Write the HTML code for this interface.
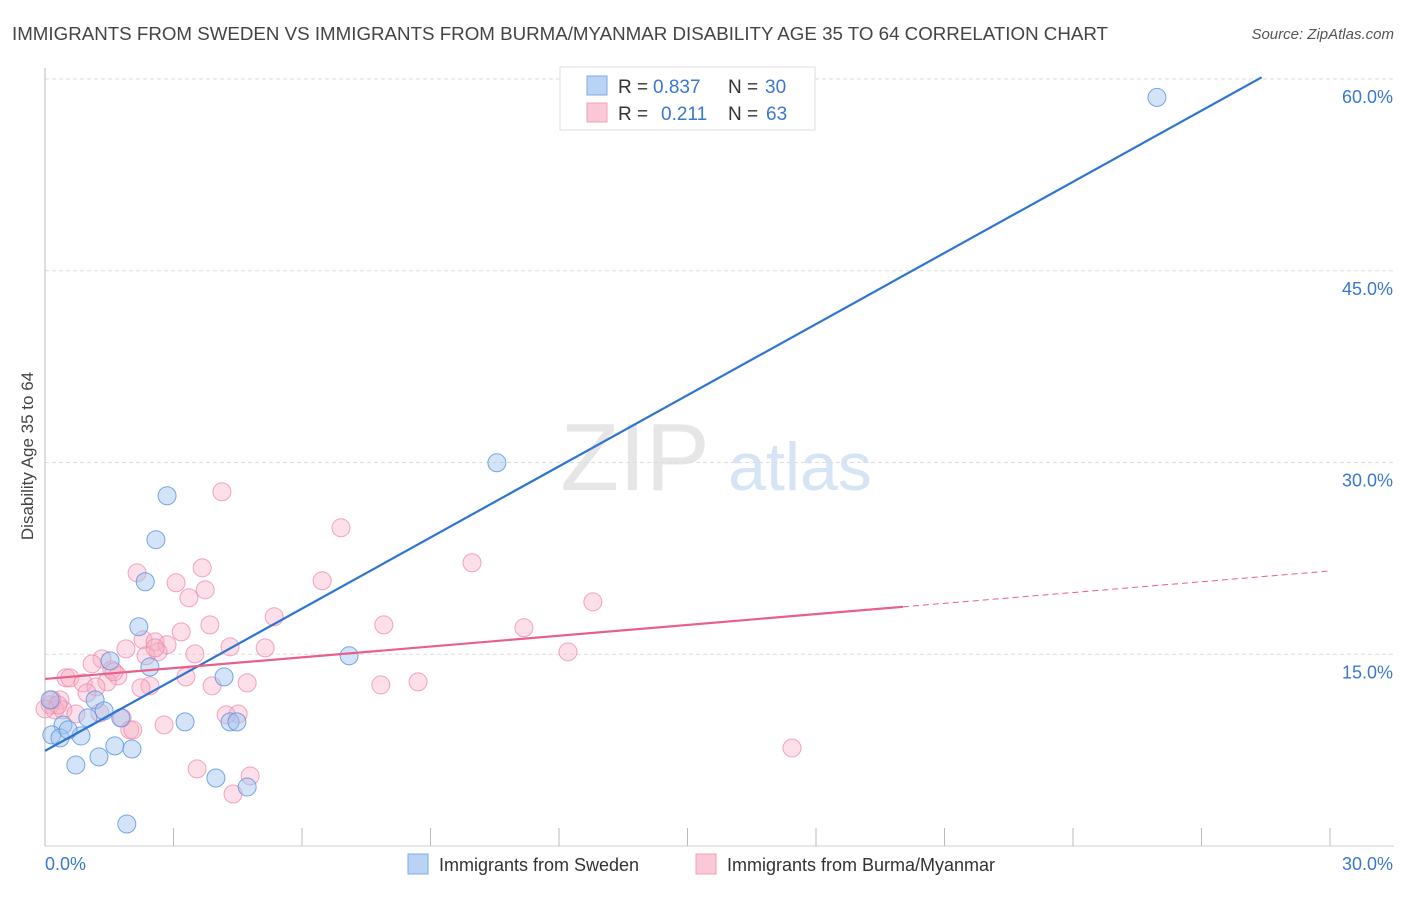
<!DOCTYPE html>
<html><head><meta charset="utf-8">
<style>
body{margin:0;background:#fff;font-family:"Liberation Sans",sans-serif;}
svg text{font-family:"Liberation Sans",sans-serif;}
</style></head>
<body>
<svg id="chart" width="1406" height="892" xmlns="http://www.w3.org/2000/svg">
<text x="12" y="40" font-size="18.5" fill="#444" textLength="1096" lengthAdjust="spacingAndGlyphs">IMMIGRANTS FROM SWEDEN VS IMMIGRANTS FROM BURMA/MYANMAR DISABILITY AGE 35 TO 64 CORRELATION CHART</text>
<text x="1394" y="39" font-size="15" fill="#555" text-anchor="end" font-style="italic">Source: ZipAtlas.com</text>
<text transform="translate(33,456) rotate(-90)" font-size="17" fill="#444" text-anchor="middle">Disability Age 35 to 64</text>
<g>
<text x="635" y="490" font-size="96" fill="#e6e6e6" font-family="Liberation Serif" text-anchor="middle">ZIP</text>
<text x="800" y="490" font-size="68" fill="#d6e4f5" text-anchor="middle">atlas</text>
</g>
<g id="grid"></g>
<g id="axes"></g>
<g id="marks"></g>
<g>
<rect x="560" y="67" width="255" height="63" fill="#fff" stroke="#ddd"/>
<rect x="587" y="76" width="20" height="19" fill="#b8d3f5" stroke="#7ea8e0"/>
<rect x="587" y="103" width="20" height="19" fill="#fac8d6" stroke="#f0a0b8"/>
<text x="618" y="93" font-size="19" fill="#333">R =</text>
<text x="653" y="93" font-size="19" fill="#3a78d0">0.837</text>
<text x="728" y="93" font-size="19" fill="#333">N =</text>
<text x="765" y="93" font-size="19" fill="#3a78d0">30</text>
<text x="618" y="120" font-size="19" fill="#333">R =</text>
<text x="661" y="120" font-size="19" fill="#3a78d0">0.211</text>
<text x="728" y="120" font-size="19" fill="#333">N =</text>
<text x="766" y="120" font-size="19" fill="#3a78d0">63</text>
</g>
<g>
<rect x="408" y="854" width="20" height="20" fill="#b8d3f5" stroke="#7ea8e0"/>
<text x="439" y="871" font-size="18" fill="#333">Immigrants from Sweden</text>
<rect x="696" y="854" width="20" height="20" fill="#fac8d6" stroke="#f0a0b8"/>
<text x="727" y="871" font-size="18" fill="#333">Immigrants from Burma/Myanmar</text>
</g>
</svg>
<script>
const yTicks=[15,30,45,60];
const xTickLabels=["0.0%","30.0%"];
const blueX=[25.96,10.55,2.85,2.59,2.34,2.19,7.10,1.52,2.45,4.18,1.17,1.38,0.12,1.00,0.42,3.27,1.77,4.32,4.48,0.16,0.35,0.84,1.63,2.03,1.26,0.72,3.99,4.72,1.91,0.54];
const blueY=[58.56,29.98,27.40,23.96,20.67,17.15,14.88,14.48,14.01,13.23,11.43,10.57,11.43,10.02,9.47,9.71,10.02,9.71,9.71,8.69,8.46,8.61,7.83,7.59,6.97,6.34,5.32,4.62,1.72,9.08];
const pinkX=[4.13,6.91,9.97,2.15,3.06,3.67,6.47,3.74,3.36,12.79,5.35,3.85,7.91,11.18,3.18,1.89,2.29,2.57,2.85,2.64,2.36,5.14,4.32,3.50,12.21,1.33,1.10,1.56,0.49,0.58,1.70,3.29,1.45,0.89,2.45,2.24,1.19,3.90,4.72,7.84,8.71,0.98,0.35,0.12,0.23,0.42,0.72,1.28,1.80,4.51,4.23,2.78,1.98,2.05,17.44,3.55,4.79,4.39,0.16,0.30,1.61,0.00,2.57];
const pinkY=[27.71,24.90,22.16,21.37,20.59,21.76,20.75,20.04,19.42,19.10,17.93,17.30,17.30,17.07,16.75,15.42,16.13,15.97,15.74,15.19,14.88,15.50,15.58,15.03,15.19,14.64,14.25,13.78,13.15,13.15,13.31,13.23,12.84,12.76,12.53,12.37,12.45,12.53,12.76,12.60,12.84,11.98,11.43,11.04,10.65,10.65,10.33,10.41,10.02,10.33,10.26,9.47,9.08,9.08,7.67,6.03,5.48,4.07,11.43,11.04,13.62,10.73,15.50];
const blueFit=[7.44,1.855];
const pinkFit=[13.07,0.2816];
const pinkSolidEnd=20.03;

const NS="http://www.w3.org/2000/svg";
const X0=45,X1=1330,Y0=846,Y60=79;
const sx=v=>X0+(v/30)*(X1-X0);
const sy=v=>Y0-(v/60)*(Y0-Y60);
function mk(tag,attrs,parent){const e=document.createElementNS(NS,tag);for(const k in attrs)e.setAttribute(k,attrs[k]);parent.appendChild(e);return e;}
const grid=document.getElementById('grid'),axes=document.getElementById('axes'),marks=document.getElementById('marks');
yTicks.forEach(t=>{
  const l=mk('line',{x1:X0,x2:1394,y1:sy(t),y2:sy(t),stroke:'#ddd','stroke-dasharray':'4,3'},grid);
  
  
  const tx=mk('text',{x:1393,y:sy(t)+24,'font-size':18,fill:'#3a78d0','text-anchor':'end'},axes);
  tx.textContent=t.toFixed(1)+'%';
  
  
});
const ya=mk('line',{x1:X0,x2:X0,y1:68,y2:Y0,stroke:'#bbb'},axes);


const xa=mk('line',{x1:X0,x2:1394,y1:Y0,y2:Y0,stroke:'#ccc'},axes);


for(let i=0;i<=10;i++){
  const t=mk('line',{x1:sx(i*3),x2:sx(i*3),y1:828,y2:Y0,stroke:'#bbb'},axes);
  
  
}
[[0,'start',45],[30,'end',1393]].forEach((d,i)=>{
  const tx=mk('text',{x:d[2],y:870,'font-size':18,fill:'#3a78d0','text-anchor':d[1]},axes);
  tx.textContent=xTickLabels[i];
  
  
});
function dots(xs,ys,fill,stroke,name){
  xs.forEach((x,i)=>{
    const c=mk('circle',{cx:sx(x),cy:sy(ys[i]),r:9,fill:fill,stroke:stroke,'stroke-width':1},marks);
    
    
  });
}
dots(pinkX,pinkY,'rgba(248,175,198,0.4)','rgba(236,130,165,0.7)','burma-point');
dots(blueX,blueY,'rgba(160,196,240,0.45)','rgba(90,145,220,0.8)','sweden-point');
const bEnd=(60.13-blueFit[0])/blueFit[1];
const bl=mk('line',{x1:sx(0),y1:sy(blueFit[0]),x2:sx(bEnd),y2:sy(blueFit[0]+blueFit[1]*bEnd),stroke:'#2f74d0','stroke-width':2.2},marks);


const pl=mk('line',{x1:sx(0),y1:sy(pinkFit[0]),x2:sx(pinkSolidEnd),y2:sy(pinkFit[0]+pinkFit[1]*pinkSolidEnd),stroke:'#e8608a','stroke-width':2.2},marks);


const pd=mk('line',{x1:sx(pinkSolidEnd),y1:sy(pinkFit[0]+pinkFit[1]*pinkSolidEnd),x2:sx(30),y2:sy(pinkFit[0]+pinkFit[1]*30),stroke:'#e8608a','stroke-width':1,'stroke-dasharray':'6,4'},marks);


</script>
</body></html>
